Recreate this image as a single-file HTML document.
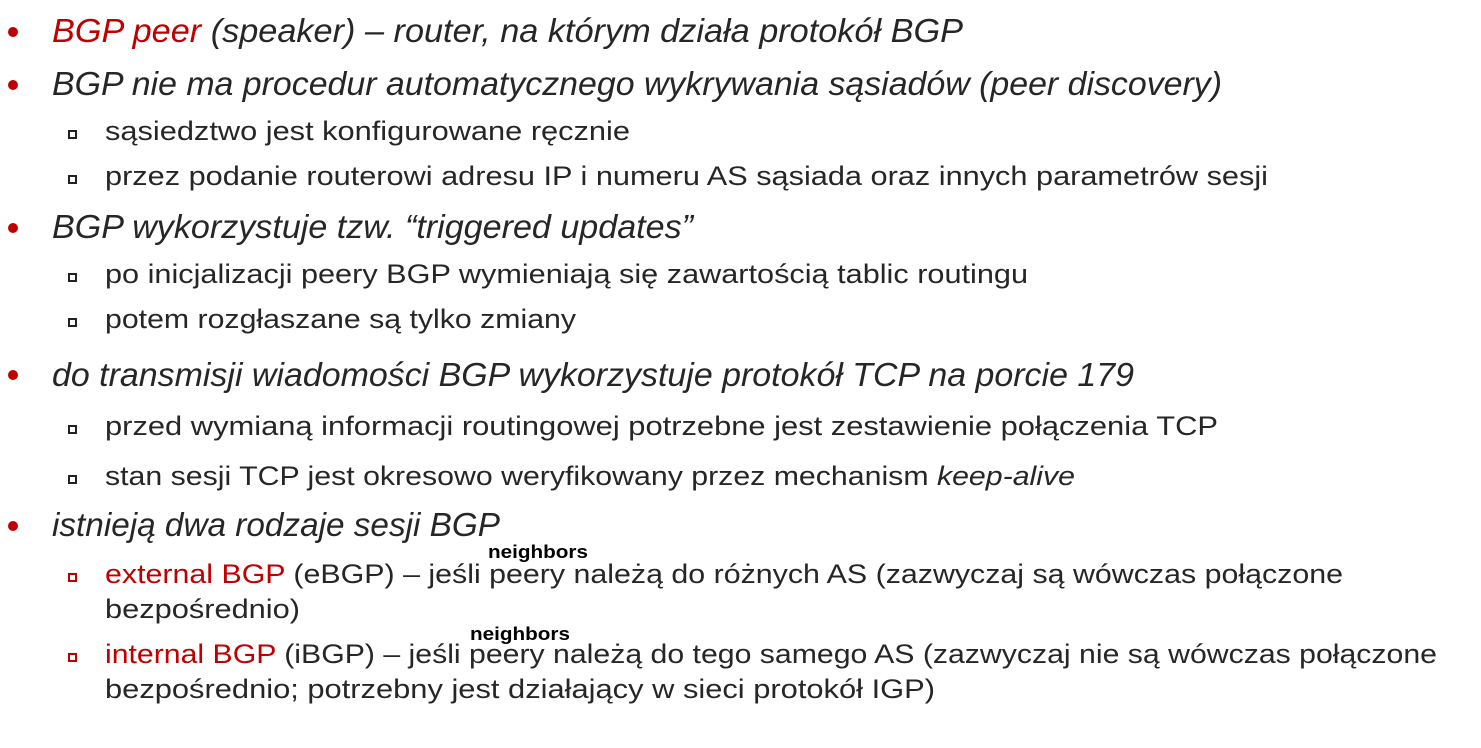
<!DOCTYPE html>
<html><head><meta charset="utf-8"><style>
html,body{margin:0;padding:0;background:#fff;width:1481px;height:748px;overflow:hidden}
svg text{font-family:"Liberation Sans",sans-serif;fill:#262626}
.l1{font-size:33px;font-style:italic}
.l2{font-size:27px}
.r{fill:#c00000}
.n{font-size:18px;font-weight:bold;fill:#000}
</style></head><body>
<svg width="1481" height="748" xmlns="http://www.w3.org/2000/svg">
<g fill="#c00000">
<circle cx="13" cy="32" r="5"/><circle cx="13" cy="85" r="5"/><circle cx="13" cy="228" r="5"/><circle cx="13" cy="375" r="5"/><circle cx="13" cy="526" r="5"/>
</g>
<g fill="#fff" stroke="#222" stroke-width="2">
<rect x="69" y="131" width="7" height="7"/><rect x="69" y="176" width="7" height="7"/>
<rect x="69" y="274" width="7" height="7"/><rect x="69" y="319" width="7" height="7"/>
<rect x="69" y="426" width="7" height="7"/><rect x="69" y="476" width="7" height="7"/>
</g>
<g fill="#fff" stroke="#c00000" stroke-width="2">
<rect x="69" y="574" width="7" height="7"/><rect x="69" y="654" width="7" height="7"/>
</g>
<text class="l1" x="52" y="42" textLength="911" lengthAdjust="spacingAndGlyphs"><tspan class="r">BGP peer</tspan> (speaker) – router, na którym działa protokół BGP</text>
<text class="l1" x="52" y="95" textLength="1170" lengthAdjust="spacingAndGlyphs">BGP nie ma procedur automatycznego wykrywania sąsiadów (peer discovery)</text>
<text class="l2" x="105" y="140" textLength="525" lengthAdjust="spacingAndGlyphs">sąsiedztwo jest konfigurowane ręcznie</text>
<text class="l2" x="105" y="185" textLength="1163" lengthAdjust="spacingAndGlyphs">przez podanie routerowi adresu IP i numeru AS sąsiada oraz innych parametrów sesji</text>
<text class="l1" x="52" y="238" textLength="641" lengthAdjust="spacingAndGlyphs">BGP wykorzystuje tzw. “triggered updates”</text>
<text class="l2" x="105" y="283" textLength="923" lengthAdjust="spacingAndGlyphs">po inicjalizacji peery BGP wymieniają się zawartością tablic routingu</text>
<text class="l2" x="105" y="328" textLength="471" lengthAdjust="spacingAndGlyphs">potem rozgłaszane są tylko zmiany</text>
<text class="l1" x="52" y="386" textLength="1082" lengthAdjust="spacingAndGlyphs">do transmisji wiadomości BGP wykorzystuje protokół TCP na porcie 179</text>
<text class="l2" x="105" y="435" textLength="1113" lengthAdjust="spacingAndGlyphs">przed wymianą informacji routingowej potrzebne jest zestawienie połączenia TCP</text>
<text class="l2" x="105" y="485" textLength="970" lengthAdjust="spacingAndGlyphs">stan sesji TCP jest okresowo weryfikowany przez mechanism <tspan font-style="italic">keep-alive</tspan></text>
<text class="l1" x="52" y="536" textLength="448" lengthAdjust="spacingAndGlyphs">istnieją dwa rodzaje sesji BGP</text>
<text class="l2" x="105" y="583" textLength="1238" lengthAdjust="spacingAndGlyphs"><tspan class="r">external BGP</tspan> (eBGP) – jeśli peery należą do różnych AS (zazwyczaj są wówczas połączone</text>
<text class="l2" x="105" y="618" textLength="195" lengthAdjust="spacingAndGlyphs">bezpośrednio)</text>
<text class="l2" x="105" y="663" textLength="1332" lengthAdjust="spacingAndGlyphs"><tspan class="r">internal BGP</tspan> (iBGP) – jeśli peery należą do tego samego AS (zazwyczaj nie są wówczas połączone</text>
<text class="l2" x="105" y="698" textLength="830" lengthAdjust="spacingAndGlyphs">bezpośrednio; potrzebny jest działający w sieci protokół IGP)</text>
<text class="n" x="488" y="558" textLength="100" lengthAdjust="spacingAndGlyphs">neighbors</text>
<text class="n" x="470" y="640" textLength="100" lengthAdjust="spacingAndGlyphs">neighbors</text>
</svg>
</body></html>
